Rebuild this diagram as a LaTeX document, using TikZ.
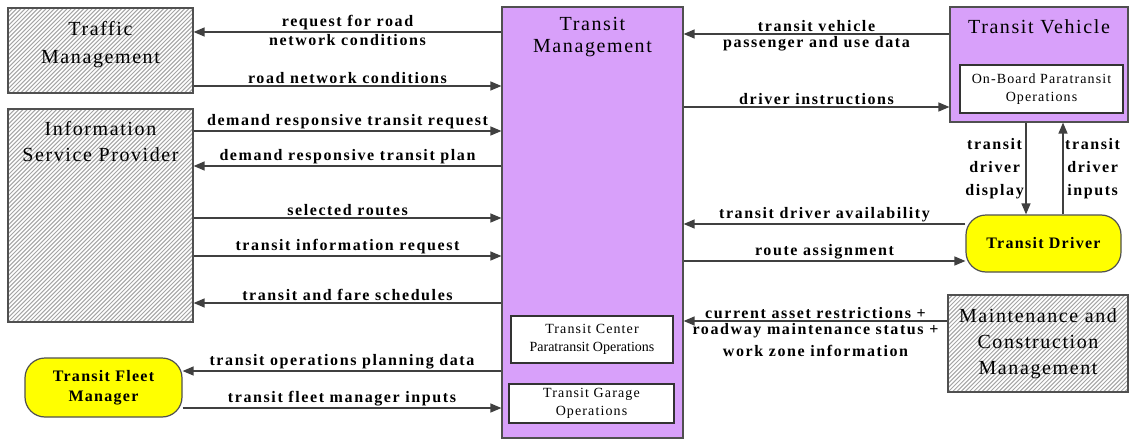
\documentclass[tikz,border=0pt]{standalone}
\usepackage{fontspec}
\setmainfont{Liberation Serif}
\newfontfamily\spacedserif{Liberation Serif}[LetterSpace=8]
\newfontfamily\widespaced{Liberation Serif}[LetterSpace=10]
\usetikzlibrary{arrows.meta}
\definecolor{tmpurple}{RGB}{216,160,250}
\definecolor{termyellow}{RGB}{255,255,0}
\definecolor{edgegray}{RGB}{80,80,80}
\definecolor{hatchgray}{RGB}{165,165,165}
\begin{document}
\begin{tikzpicture}[x=1pt,y=-1pt,
  hatchline/.style={draw=hatchgray, line width=1pt},
  hatchbox/.style={draw=edgegray, line width=1.2pt, fill=white,
    path picture={\foreach \k in {-60,...,50}
      \draw[hatchline] ([xshift=\k*4.2pt]path picture bounding box.south west) -- ++(300,-300);},
    align=center, inner sep=0pt, font=\spacedserif\fontsize{20}{24}\selectfont},
  sysbox/.style={draw=edgegray, line width=1.2pt, fill=tmpurple, inner sep=0pt},
  subbox/.style={draw=black!80, line width=1.2pt, fill=white, align=center, inner sep=0pt,
    font=\spacedserif\fontsize{14}{18}\selectfont},
  termbox/.style={draw=edgegray, line width=1.2pt, fill=termyellow, rounded corners=20pt,
    align=center, inner sep=0pt, font=\spacedserif\bfseries\fontsize{16}{20}\selectfont},
  title/.style={align=center, font=\spacedserif\fontsize{20}{22}\selectfont},
  lbl/.style={align=center, inner sep=1.5pt, font=\widespaced\bfseries\fontsize{16}{22}\selectfont},
  arr/.style={draw=black!75, line width=1.3pt, -{Triangle[length=11pt,width=9pt]}}
]
\fill[white] (0,0) rectangle (1132,441);
\useasboundingbox (0,0) rectangle (1132,441);

% terminators and subsystems
\node[hatchbox, minimum width=185pt, minimum height=85pt] (traffic) at (100.5,50.5) {};
\node[title, anchor=north, font=\spacedserif\fontsize{20}{28}\selectfont] (traffictxt) at (traffic.north) [yshift=-10pt] {Traffic\\Management};
\node[hatchbox, minimum width=185pt, minimum height=213pt] (isp) at (100.5,215.5) {};
\node[title, anchor=north, font=\spacedserif\fontsize{20}{26}\selectfont] (isptxt) at (isp.north) [yshift=-9pt] {Information\\Service Provider};
\node[termbox, minimum width=157pt, minimum height=59pt] (fleet) at (103.5,387.5) {Transit Fleet\\Manager};

\node[sysbox, minimum width=181pt, minimum height=431pt] (tm) at (592.5,222.5) {};
\node[title, anchor=north] (tmtxt) at (tm.north) [yshift=-7pt] {Transit\\Management};
\node[subbox, minimum width=162pt, minimum height=47pt] (tcpo) at (592,339.5) {Transit Center\\{\fontspec{Liberation Serif}\fontsize{14}{18}\selectfont Paratransit Operations}};
\node[subbox, minimum width=165pt, minimum height=39pt] (tgo) at (591.5,403.5) {Transit Garage\\Operations};

\node[sysbox, minimum width=178pt, minimum height=115pt] (tv) at (1039,64.5) {};
\node[title, anchor=north] (tvtxt) at (tv.north) [yshift=-10pt] {Transit Vehicle};
\node[subbox, minimum width=163pt, minimum height=48pt] (obpo) at (1041.5,89) {On-Board Paratransit\\Operations};

\node[termbox, minimum width=155pt, minimum height=57pt] (driver) at (1043.5,243.5) {Transit Driver};
\node[hatchbox, minimum width=180pt, minimum height=97pt, font=\spacedserif\fontsize{20}{26}\selectfont] (mcm) at (1038,343.5) {Maintenance and\\Construction\\Management};

% rows of the horizontal flows
\coordinate (r1) at (0,32);
\coordinate (r2) at (0,86);
\coordinate (r3) at (0,131);
\coordinate (r4) at (0,166);
\coordinate (r5) at (0,218);
\coordinate (r6) at (0,256);
\coordinate (r7) at (0,303);
\coordinate (r8) at (0,371);
\coordinate (r9) at (0,408);
\coordinate (q1) at (0,34);
\coordinate (q2) at (0,107);
\coordinate (q3) at (0,224);
\coordinate (q4) at (0,261);
\coordinate (q5) at (0,321);
\coordinate (c1) at (1026,0);
\coordinate (c2) at (1063,0);

% flows on the left
\draw[arr] (tm.west |- r1) -- node[lbl, above] (l1a) {request for road} node[lbl, below] (l1b) {network conditions} (traffic.east |- r1);
\draw[arr] (traffic.east |- r2) -- node[lbl, above] (l2) {road network conditions} (tm.west |- r2);
\draw[arr] (isp.east |- r3) -- node[lbl, above] (l3) {demand responsive transit request} (tm.west |- r3);
\draw[arr] (tm.west |- r4) -- node[lbl, above] (l4) {demand responsive transit plan} (isp.east |- r4);
\draw[arr] (isp.east |- r5) -- node[lbl, above] (l5) {selected routes} (tm.west |- r5);
\draw[arr] (isp.east |- r6) -- node[lbl, above] (l6) {transit information request} (tm.west |- r6);
\draw[arr] (tm.west |- r7) -- node[lbl, above] (l7) {transit and fare schedules} (isp.east |- r7);
\draw[arr] (tm.west |- r8) -- node[lbl, above] (l8) {transit operations planning data} (fleet.east |- r8);
\draw[arr] (fleet.east |- r9) -- node[lbl, above] (l9) {transit fleet manager inputs} (tm.west |- r9);

% flows on the right
\draw[arr] (tv.west |- q1) -- node[lbl, above] (m1a) {transit vehicle} node[lbl, below] (m1b) {passenger and use data} (tm.east |- q1);
\draw[arr] (tm.east |- q2) -- node[lbl, above] (m2) {driver instructions} (tv.west |- q2);
\draw[arr] (driver.west |- q3) -- node[lbl, above] (m3) {transit driver availability} (tm.east |- q3);
\draw[arr] (tm.east |- q4) -- node[lbl, above] (m4) {route assignment} (driver.west |- q4);
\draw[arr] (mcm.west |- q5) -- node[lbl, above] (m5a) {current asset restrictions +} node[lbl, below] (m5b) {roadway maintenance status +\\work zone information} (tm.east |- q5);

% driver display and inputs
\draw[arr] (tv.south -| c1) -- node[lbl, left, font=\widespaced\bfseries\fontsize{16}{23}\selectfont] (d1) {transit\\driver\\display} (driver.north -| c1);
\draw[arr] (driver.north -| c2) -- node[lbl, right, font=\widespaced\bfseries\fontsize{16}{23}\selectfont] (d2) {transit\\driver\\inputs} (tv.south -| c2);
\end{tikzpicture}
\end{document}
